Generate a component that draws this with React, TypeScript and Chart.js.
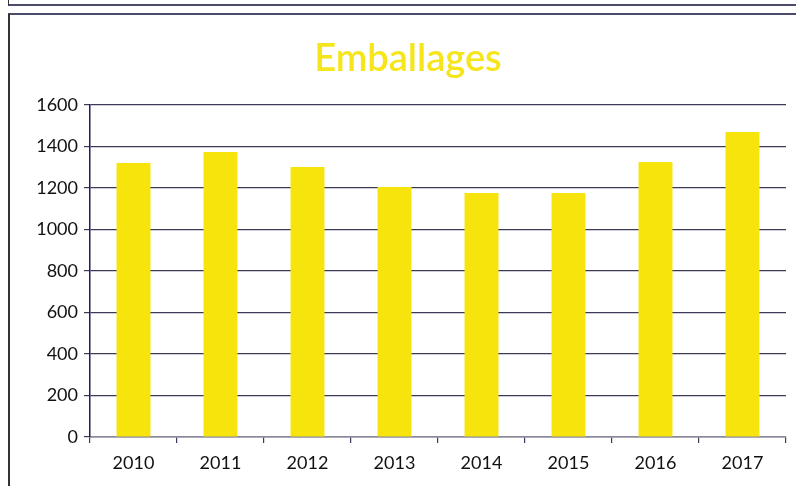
import React, { useEffect, useRef } from "react";
import { Chart, registerables } from "chart.js";

Chart.register(...registerables);

const years = ["2010", "2011", "2012", "2013", "2014", "2015", "2016", "2017"];
const emballages = [1320, 1373, 1301, 1205, 1176, 1176, 1325, 1470];
const yTicks = { min: 0, max: 1600, step: 200 };
const titleText = "Emballages";

export default function App() {
  const ref = useRef<HTMLCanvasElement | null>(null);

  useEffect(() => {
    if (!ref.current) return;
    const dark = "#3b3b58";
    const chart = new Chart(ref.current, {
      type: "bar",
      data: {
        labels: years,
        datasets: [
          {
            label: titleText,
            data: emballages,
            backgroundColor: "#f6e40c",
            borderWidth: 0,
            barPercentage: 0.39,
            categoryPercentage: 1,
          },
        ],
      },
      options: {
        responsive: false,
        animation: false,
        devicePixelRatio: 1,
        layout: { padding: { left: 0, right: 10, top: 105, bottom: 0 } },
        plugins: { legend: { display: false }, title: { display: false }, tooltip: { enabled: false } },
        scales: {
          x: {
            grid: { display: true, offset: true, drawOnChartArea: false, color: dark, tickLength: 6, lineWidth: 1.2 },
            border: { display: true, color: "#8a8a9a", width: 1.5 },
            ticks: { color: "#111", font: { family: "Lato", size: 18 }, padding: 9 },
            afterFit: (s: any) => {
              s.height = 49;
            },
          },
          y: {
            min: yTicks.min,
            max: yTicks.max,
            ticks: {
              stepSize: yTicks.step,
              color: "#111",
              font: { family: "Lato", size: 18 },
              padding: 6,
              callback: (v: any) => String(v),
            },
            grid: { color: dark, tickLength: 6, lineWidth: 1.2 },
            border: { display: true, color: "#1e1e50", width: 1.5 },
            afterFit: (s: any) => {
              s.width = 90;
            },
          },
        },
      },
    });
    return () => chart.destroy();
  }, []);

  return (
    <div style={{ position: "fixed", left: 0, top: 0, width: 796, height: 486, background: "#fff", overflow: "hidden" }}>
      <div style={{ position: "absolute", left: 8, top: -4, width: 800, height: 8, borderLeft: "1.5px solid #333", borderBottom: "2px solid #4a4a6a" }} />
      <div style={{ position: "absolute", left: 8, top: 13, width: 800, height: 480, borderLeft: "2px solid #333", borderTop: "2px solid #4a4a6a" }} />
      <canvas ref={ref} width={796} height={486} style={{ position: "absolute", left: 0, top: 0 }} />
      <div
        style={{
          position: "absolute",
          left: 0,
          top: 33,
          width: 816,
          textAlign: "center",
          fontFamily: "Lato, sans-serif",
          fontWeight: 600,
          fontSize: 38,
          color: "#f5e51a",
        }}
      >
        {titleText}
      </div>
    </div>
  );
}
